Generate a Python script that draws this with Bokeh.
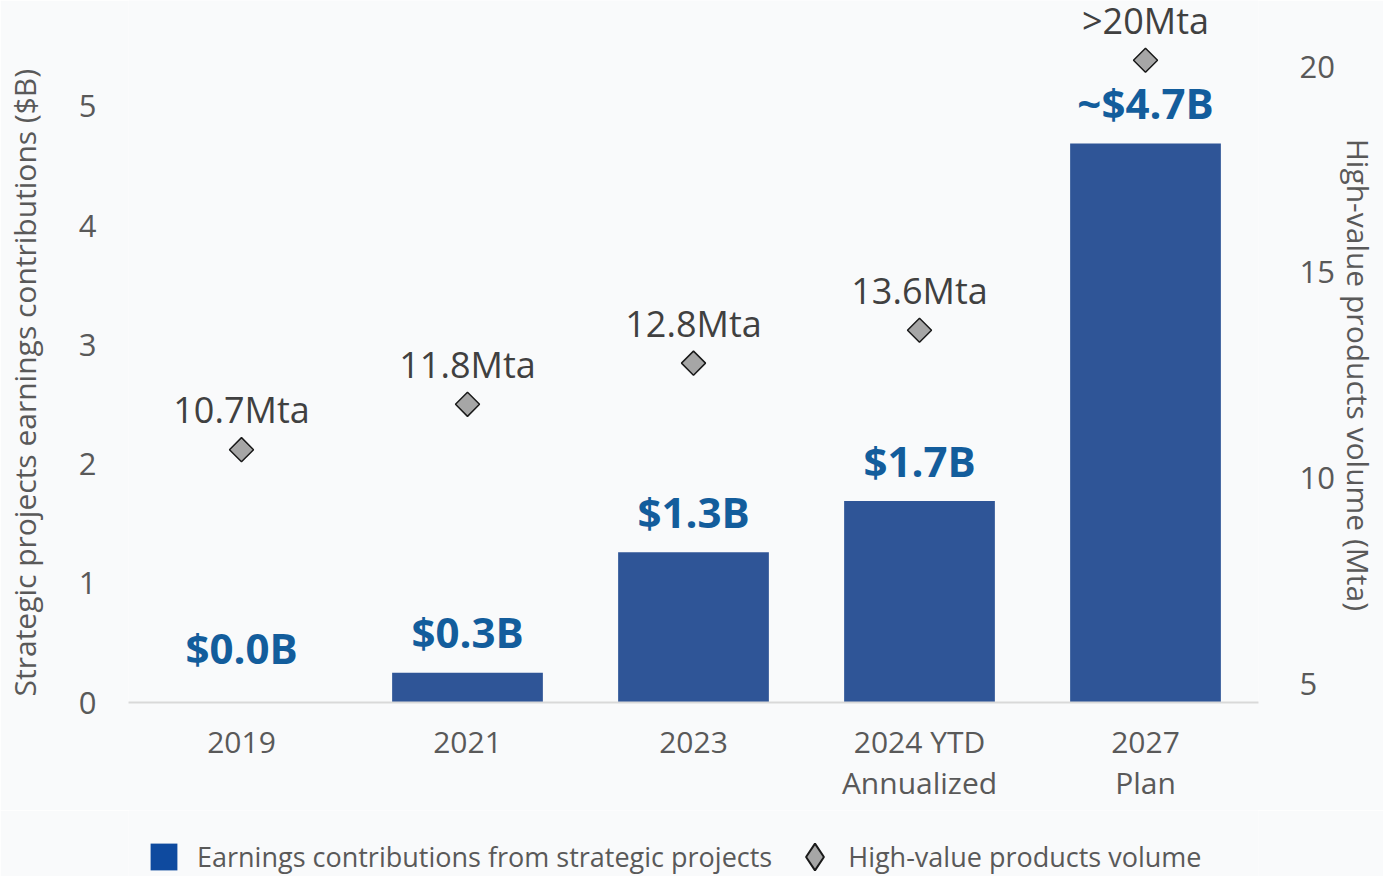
import numpy as np
from bokeh.plotting import figure
from bokeh.layouts import column
from bokeh.models import (ColumnDataSource, Range1d, LinearAxis, Legend, LegendItem,
                          FactorRange, FixedTicker)
from bokeh.core.properties import value
from bokeh.embed import file_html
from bokeh.resources import INLINE

# ---- data ----
categories = ["2019", "2021", "2023", "2024 YTD\nAnnualized", "2027\nPlan"]
earnings = [0.0, 0.25, 1.26, 1.69, 4.69]
earnings_labels = ["$0.0B", "$0.3B", "$1.3B", "$1.7B", "~$4.7B"]
volume = [10.7, 11.8, 12.8, 13.6, 20.15]
volume_labels = ["10.7Mta", "11.8Mta", "12.8Mta", "13.6Mta", ">20Mta"]
left_ticks = [0, 1, 2, 3, 4, 5]
right_ticks = [5, 10, 15, 20]
left_title = "Strategic projects earnings contributions ($B)"
right_title = "High-value products volume (Mta)"
legend_labels = ["Earnings contributions from strategic projects", "High-value products volume"]

FONT = "Open Sans"
BG = "#f9fafb"
TICK_COLOR = "#595959"
BAR_COLOR = "#2f5597"
DIA_FILL = "#a6a6a6"
DIA_LINE = "#1a1a1a"
NBSP = "\u00a0"

src = ColumnDataSource(dict(
    cat=categories,
    earn=earnings,
    earn_label=earnings_labels,
    label_y=list(np.maximum(np.array(earnings), 0.12)),
    vol=volume,
    vol_label=volume_labels,
))

p = figure(
    width=1383, height=810,
    x_range=FactorRange(*categories),
    y_range=Range1d(0, 5.889),
    output_backend="svg", toolbar_location=None,
    min_border_left=128, min_border_right=125,
    min_border_top=0, min_border_bottom=108,
)
p.extra_y_ranges = {"vol": Range1d(4.563, 21.602)}
p.background_fill_color = BG
p.border_fill_color = BG
p.outline_line_color = None
p.xgrid.grid_line_color = None
p.ygrid.grid_line_color = None

p.vbar(x="cat", top="earn", width=0.667, source=src,
       fill_color=BAR_COLOR, line_color=None)

p.text(x="cat", y="label_y", text="earn_label", source=src,
       text_align="center", text_baseline="middle", y_offset=-41,
       text_font=value(FONT), text_font_style="bold", text_font_size="42px",
       text_color="#135d9c")

p.scatter(x="cat", y="vol", source=src, y_range_name="vol",
          marker="square", angle=np.pi / 4, size=17,
          fill_color=DIA_FILL, line_color=DIA_LINE, line_width=1.5)

p.text(x="cat", y="vol", text="vol_label", source=src, y_range_name="vol",
       text_align="center", text_baseline="middle", y_offset=-40,
       text_font=value(FONT), text_font_size="36px", text_color="#404040")

# x axis
xa = p.xaxis[0]
xa.axis_line_color = "#d9d9d9"
xa.axis_line_width = 2
xa.major_tick_line_color = None
xa.minor_tick_line_color = None
xa.major_label_standoff = 12
xa.major_label_text_font = FONT
xa.major_label_text_font_size = "30px"
xa.major_label_text_line_height = 1.0
xa.major_label_text_color = TICK_COLOR

# left axis
ya = p.yaxis[0]
ya.ticker = FixedTicker(ticks=left_ticks)
ya.axis_line_color = None
ya.major_tick_line_color = None
ya.minor_tick_line_color = None
ya.major_label_standoff = 26
ya.major_label_text_font = FONT
ya.major_label_text_font_size = "31px"
ya.major_label_text_color = TICK_COLOR
ya.axis_label = left_title + NBSP * 8
ya.axis_label_text_font = FONT
ya.axis_label_text_font_size = "30px"
ya.axis_label_text_font_style = "normal"
ya.axis_label_text_color = TICK_COLOR
ya.axis_label_standoff = 31

# right axis
ra = LinearAxis(y_range_name="vol", ticker=FixedTicker(ticks=right_ticks))
ra.axis_line_color = None
ra.major_tick_line_color = None
ra.minor_tick_line_color = None
ra.major_label_standoff = 35
ra.major_label_text_font = FONT
ra.major_label_text_font_size = "31px"
ra.major_label_text_color = TICK_COLOR
ra.axis_label = NBSP * 6 + right_title
ra.axis_label_text_font = FONT
ra.axis_label_text_font_size = "30px"
ra.axis_label_text_font_style = "normal"
ra.axis_label_text_color = TICK_COLOR
ra.axis_label_standoff = 0
p.add_layout(ra, "right")

# ---- legend strip (separate figure below the chart) ----
lg = figure(width=1383, height=66, x_range=Range1d(0, 1), y_range=Range1d(0, 1),
            output_backend="svg", toolbar_location=None,
            x_axis_location=None, y_axis_location=None,
            min_border_left=128, min_border_right=125,
            min_border_top=0, min_border_bottom=0)
lg.background_fill_color = BG
lg.border_fill_color = BG
lg.outline_line_color = None
lg.xgrid.grid_line_color = None
lg.ygrid.grid_line_color = None

# legend swatch renderers: one point each, placed outside the visible range
legend_bar = lg.scatter(x=[-5], y=[-5], marker="square",
                        fill_color="#0e4a9f", line_color=None)
legend_dia = lg.scatter(x=[-5], y=[-5], marker="diamond",
                        fill_color=DIA_FILL, line_color=DIA_LINE, line_width=2)

leg = Legend(items=[
    LegendItem(label=legend_labels[0], renderers=[legend_bar]),
    LegendItem(label=legend_labels[1], renderers=[legend_dia]),
], orientation="horizontal", location=(2, -14), glyph_width=67, glyph_height=67,
    label_standoff=0, spacing=9, label_text_font=FONT, label_text_font_size="27px",
    label_text_color=TICK_COLOR, background_fill_alpha=0, border_line_alpha=0,
    padding=0, margin=0)
lg.add_layout(leg, "center")

layout = column(p, lg, spacing=0)
open("out.html", "w").write(file_html(layout, INLINE))
